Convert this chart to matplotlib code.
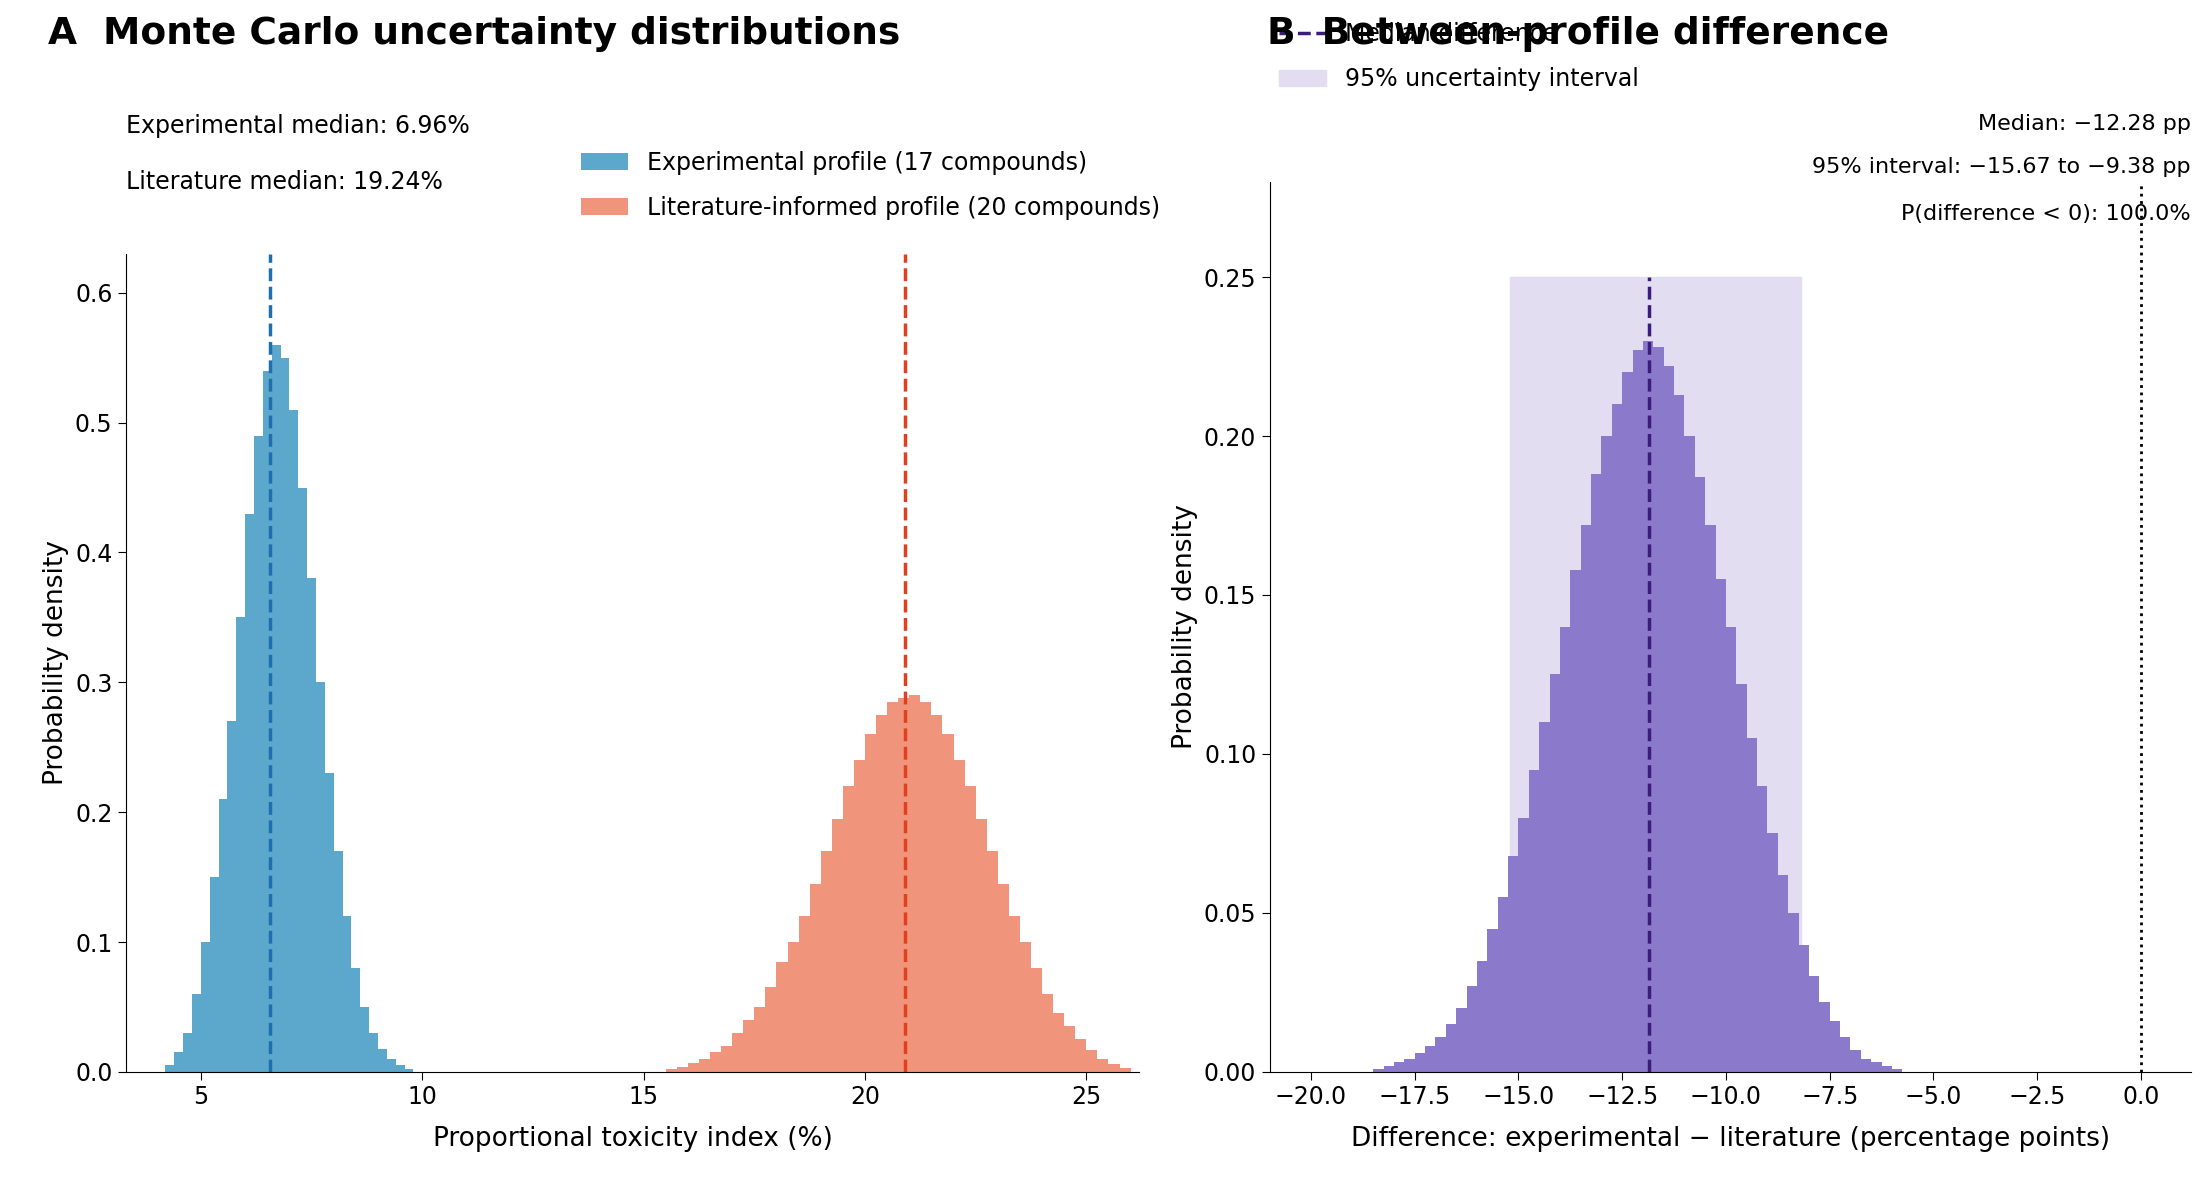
import matplotlib
matplotlib.use("Agg")
import matplotlib.pyplot as plt
from matplotlib.patches import Rectangle

# experimental profile histogram (bin left edges, densities)
exp_edges = [4.2, 4.4, 4.6, 4.8, 5.0, 5.2, 5.4, 5.6, 5.8, 6.0, 6.2, 6.4, 6.6, 6.8, 7.0,
             7.2, 7.4, 7.6, 7.8, 8.0, 8.2, 8.4, 8.6, 8.8, 9.0, 9.2, 9.4, 9.6]
exp_dens = [0.005, 0.015, 0.03, 0.06, 0.10, 0.15, 0.21, 0.27, 0.35, 0.43, 0.49, 0.54, 0.56, 0.55, 0.51,
            0.45, 0.38, 0.30, 0.23, 0.17, 0.12, 0.08, 0.05, 0.03, 0.018, 0.01, 0.005, 0.002]
exp_width = 0.2

lit_edges = [15.5, 15.75, 16.0, 16.25, 16.5, 16.75, 17.0, 17.25, 17.5, 17.75, 18.0, 18.25, 18.5, 18.75,
             19.0, 19.25, 19.5, 19.75, 20.0, 20.25, 20.5, 20.75, 21.0, 21.25, 21.5, 21.75, 22.0, 22.25,
             22.5, 22.75, 23.0, 23.25, 23.5, 23.75, 24.0, 24.25, 24.5, 24.75, 25.0, 25.25, 25.5, 25.75]
lit_dens = [0.002, 0.004, 0.007, 0.01, 0.015, 0.02, 0.03, 0.04, 0.05, 0.065, 0.085, 0.10, 0.12, 0.145,
            0.17, 0.195, 0.22, 0.24, 0.26, 0.275, 0.285, 0.288, 0.29, 0.285, 0.275, 0.26, 0.24, 0.22,
            0.195, 0.17, 0.145, 0.12, 0.10, 0.08, 0.06, 0.045, 0.035, 0.025, 0.017, 0.01, 0.006, 0.003]
lit_width = 0.25

diff_edges = [-18.5, -18.25, -18.0, -17.75, -17.5, -17.25, -17.0, -16.75, -16.5, -16.25, -16.0, -15.75,
              -15.5, -15.25, -15.0, -14.75, -14.5, -14.25, -14.0, -13.75, -13.5, -13.25, -13.0, -12.75,
              -12.5, -12.25, -12.0, -11.75, -11.5, -11.25, -11.0, -10.75, -10.5, -10.25, -10.0, -9.75,
              -9.5, -9.25, -9.0, -8.75, -8.5, -8.25, -8.0, -7.75, -7.5, -7.25, -7.0, -6.75, -6.5, -6.25, -6.0]
diff_dens = [0.001, 0.002, 0.003, 0.004, 0.006, 0.008, 0.011, 0.015, 0.02, 0.027, 0.035, 0.045,
             0.055, 0.068, 0.08, 0.095, 0.11, 0.125, 0.14, 0.158, 0.172, 0.188, 0.2, 0.21,
             0.22, 0.227, 0.23, 0.228, 0.222, 0.213, 0.2, 0.187, 0.172, 0.155, 0.14, 0.122,
             0.105, 0.09, 0.075, 0.062, 0.05, 0.04, 0.03, 0.022, 0.016, 0.011, 0.007, 0.004, 0.003, 0.002, 0.001]
diff_width = 0.25

exp_line = 6.55
lit_line = 20.9
diff_median = -11.85
ci_low, ci_high = -15.2, -8.2

fig = plt.figure(figsize=(22.04, 12.03), dpi=100)
ax1 = fig.add_axes([0.057, 0.109, 0.46, 0.68])
ax2 = fig.add_axes([0.576, 0.109, 0.418, 0.74])

ax1.bar(exp_edges, exp_dens, width=exp_width, align="edge", color="#5ba8cc", label="Experimental profile (17 compounds)")
ax1.bar(lit_edges, lit_dens, width=lit_width, align="edge", color="#f0957c", label="Literature-informed profile (20 compounds)")
ax1.axvline(exp_line, color="#1f6fb0", ls="--", lw=2.5)
ax1.axvline(lit_line, color="#e0401e", ls="--", lw=2.5)
ax1.set_xlim(3.3, 26.2)
ax1.set_ylim(0, 0.63)
ax1.set_xticks([5, 10, 15, 20, 25])
ax1.set_xlabel("Proportional toxicity index (%)", fontsize=19, labelpad=12)
ax1.set_ylabel("Probability density", fontsize=19)
ax1.legend(loc="lower left", bbox_to_anchor=(0.44, 1.03), frameon=False, fontsize=17, handlelength=2,
           labelspacing=0.9, borderaxespad=0)
fig.text(0.057, 0.895, "Experimental median: 6.96%", fontsize=17, va="center")
fig.text(0.057, 0.849, "Literature median: 19.24%", fontsize=17, va="center")
fig.text(0.022, 0.972, "A  Monte Carlo uncertainty distributions", fontsize=27, fontweight="bold", va="center")

ax2.add_patch(Rectangle((ci_low, 0), ci_high - ci_low, 0.25, color="#e3ddf1", label="95% uncertainty interval"))
ax2.bar(diff_edges, diff_dens, width=diff_width, align="edge", color="#8b7acb")
ax2.plot([diff_median, diff_median], [0, 0.25], color="#3a1d7a", ls="--", lw=2.5, label="Median difference")
ax2.axvline(0, color="black", ls=":", lw=2)
ax2.set_xlim(-21, 1.2)
ax2.set_ylim(0, 0.28)
ax2.set_xticks([-20, -17.5, -15, -12.5, -10, -7.5, -5, -2.5, 0])
ax2.set_xticklabels(["\u221220.0", "\u221217.5", "\u221215.0", "\u221212.5", "\u221210.0", "\u22127.5", "\u22125.0", "\u22122.5", "0.0"])
ax2.set_xlabel("Difference: experimental \u2212 literature (percentage points)", fontsize=19, labelpad=12)
ax2.set_ylabel("Probability density", fontsize=19)
h, l = ax2.get_legend_handles_labels()
ax2.legend(h[::-1], l[::-1], loc="upper left", bbox_to_anchor=(0.0, 1.19), frameon=False, fontsize=17,
           labelspacing=0.9, borderaxespad=0)
fig.text(0.994, 0.897, "Median: \u221212.28 pp", ha="right", va="center", fontsize=16)
fig.text(0.994, 0.861, "95% interval: \u221215.67 to \u22129.38 pp", ha="right", va="center", fontsize=16)
fig.text(0.994, 0.822, "P(difference < 0): 100.0%", ha="right", va="center", fontsize=16)
fig.text(0.575, 0.972, "B  Between-profile difference", fontsize=27, fontweight="bold", va="center")

for ax in (ax1, ax2):
    ax.spines["top"].set_visible(False)
    ax.spines["right"].set_visible(False)
    ax.tick_params(labelsize=17, length=6)

fig.savefig("out.png", dpi=100)
